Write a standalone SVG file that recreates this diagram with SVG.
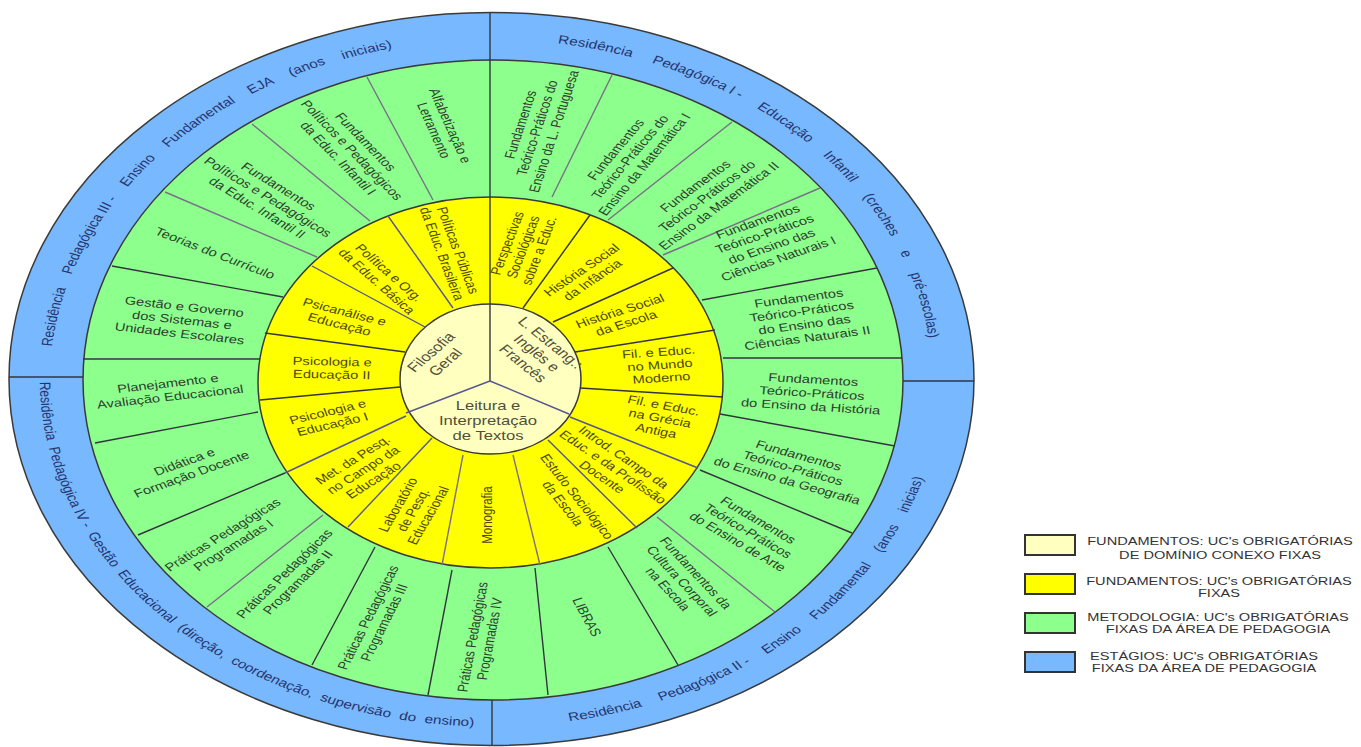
<svg xmlns="http://www.w3.org/2000/svg" width="1361" height="747" viewBox="0 0 1361 747">
<style>
text{font-family:"Liberation Sans",Arial,sans-serif;text-anchor:middle}
.g{font-size:11.5px;fill:#2f4030}
.y{font-size:11.5px;fill:#4d4810}
.c{font-size:13px;fill:#50503c}
.b{font-size:12px;fill:#25346b;text-anchor:start}
.l{font-size:11.5px;fill:#333}
.dk{stroke:#34343f;stroke-width:1.4;fill:none}
.gr{stroke:#7a6e8a;stroke-width:1.4;fill:none}
.pu{stroke:#555590;stroke-width:1.4;fill:none}
.ring{stroke:#3a3a3a;stroke-width:1.5}
.box{stroke:#333;stroke-width:2}
</style>
<defs>
<path id="pTL" d="M -342.9 -32.5 A 344.5 339.5 0 0 1 30 -338.2"/>
<path id="pTR" d="M 52.1 -335.6 A 344.5 339.5 0 0 1 344.3 -11.8"/>
<path id="pBL" d="M -352.5 3 A 352.5 347.5 0 0 0 12.3 347.3"/>
<path id="pBR" d="M 61.2 342.2 A 352.5 347.5 0 0 0 347.1 60.3"/>
</defs>
<g id="rings">
<ellipse class="ring" cx="491.5" cy="379" rx="482.5" ry="366.5" fill="#78b8ff"/>
<ellipse class="ring" cx="493" cy="380" rx="410" ry="320" fill="#8cff8c"/>
<ellipse class="ring" cx="490.5" cy="382.5" rx="232.5" ry="185.5" fill="#ffff00"/>
<ellipse class="ring" cx="490.5" cy="379" rx="90.5" ry="75" fill="#ffffc0"/>
</g>
<g id="connectors">
<line class="dk" x1="490" y1="13" x2="490" y2="381"/>
<line class="dk" x1="492" y1="700" x2="492" y2="745"/>
<line class="dk" x1="9" y1="377" x2="83" y2="377"/>
<line class="dk" x1="903" y1="381" x2="974" y2="381"/>
<line class="pu" x1="490" y1="381" x2="406" y2="413"/>
<line class="pu" x1="490" y1="381" x2="569" y2="414"/>
<line class="gr" x1="552" y1="197" x2="612" y2="75"/>
<line class="gr" x1="608" y1="220" x2="732" y2="122"/>
<line class="gr" x1="663" y1="255" x2="820" y2="188"/>
<line class="dk" x1="702" y1="300" x2="877" y2="268"/>
<line class="dk" x1="723" y1="358" x2="902" y2="358"/>
<line class="dk" x1="720" y1="414" x2="895" y2="446"/>
<line class="dk" x1="700" y1="470" x2="852" y2="533"/>
<line class="gr" x1="657" y1="517" x2="775" y2="612"/>
<line class="dk" x1="608" y1="547" x2="678" y2="665"/>
<line class="dk" x1="535" y1="568" x2="548" y2="695"/>
<line class="dk" x1="452" y1="570" x2="428" y2="695"/>
<line class="dk" x1="375" y1="547" x2="312" y2="665"/>
<line class="gr" x1="323" y1="515" x2="207" y2="607"/>
<line class="dk" x1="285" y1="473" x2="138" y2="535"/>
<line class="dk" x1="258" y1="412" x2="95" y2="443"/>
<line class="dk" x1="260" y1="359" x2="83" y2="359"/>
<line class="dk" x1="283" y1="297" x2="112" y2="266"/>
<line class="gr" x1="317" y1="257" x2="165" y2="192"/>
<line class="gr" x1="370" y1="221" x2="252" y2="124"/>
<line class="gr" x1="433" y1="200" x2="367" y2="77"/>
<line class="dk" x1="523" y1="308" x2="590" y2="215"/>
<line class="dk" x1="553" y1="322" x2="673" y2="268"/>
<line class="dk" x1="575" y1="352" x2="715" y2="330"/>
<line class="dk" x1="580" y1="388" x2="723" y2="397"/>
<line class="pu" x1="570" y1="417" x2="698" y2="468"/>
<line class="pu" x1="548" y1="440" x2="637" y2="528"/>
<line class="gr" x1="513" y1="455" x2="540" y2="565"/>
<line class="gr" x1="463" y1="455" x2="442" y2="565"/>
<line class="pu" x1="432" y1="438" x2="348" y2="527"/>
<line class="pu" x1="406" y1="416" x2="285" y2="473"/>
<line class="dk" x1="400" y1="387" x2="260" y2="400"/>
<line class="dk" x1="405" y1="352" x2="265" y2="333"/>
<line class="pu" x1="425" y1="327" x2="312" y2="266"/>
<line class="pu" x1="453" y1="308" x2="388" y2="216"/>
</g>
<g id="stages" transform="translate(491 379) scale(1.28 1)">
<g id="s3"><text class="b"><textPath href="#pTL">Residência<tspan dx="10.8"> Pedagógica III -</tspan><tspan dx="10.8"> Ensino</tspan><tspan dx="10.8"> Fundamental</tspan><tspan dx="10.8"> EJA</tspan><tspan dx="10.8"> (anos</tspan><tspan dx="10.8"> iniciais)</tspan></textPath></text></g>
<g id="s1"><text class="b"><textPath href="#pTR">Residência<tspan dx="13.3"> Pedagógica I -</tspan><tspan dx="13.3"> Educação</tspan><tspan dx="13.3"> Infantil</tspan><tspan dx="13.3"> (creches</tspan><tspan dx="13.3"> e</tspan><tspan dx="13.3"> pré-escolas)</tspan></textPath></text></g>
<g id="s4"><text class="b"><textPath href="#pBL">Residência<tspan dx="3.5"> Pedagógica IV -</tspan><tspan dx="3.5"> Gestão</tspan><tspan dx="3.5"> Educacional</tspan><tspan dx="3.5"> (direção,</tspan><tspan dx="3.5"> coordenação,</tspan><tspan dx="3.5"> supervisão</tspan><tspan dx="3.5"> do</tspan><tspan dx="3.5"> ensino)</tspan></textPath></text></g>
<g id="s2"><text class="b"><textPath href="#pBR">Residência<tspan dx="11.4"> Pedagógica II -</tspan><tspan dx="11.4"> Ensino</tspan><tspan dx="11.4"> Fundamental</tspan><tspan dx="11.4"> (anos</tspan><tspan dx="11.4"> inicias)</tspan></textPath></text></g>
</g>
<g id="methodology">
<g id="m1"><text class="g" transform="translate(537 128) scale(1.28 1) rotate(-75.4)"><tspan x="0" y="-9.5">Fundamentos</tspan><tspan x="0" dy="13.5">Teórico-Práticos do</tspan><tspan x="0" dy="13.5">Ensino da L. Portuguesa</tspan></text></g>
<g id="m2"><text class="g" transform="translate(630 157) scale(1.28 1) rotate(-56.2)"><tspan x="0" y="-9.5">Fundamentos</tspan><tspan x="0" dy="13.5">Teórico-Práticos do</tspan><tspan x="0" dy="13.5">Ensino da Matemática I</tspan></text></g>
<g id="m3"><text class="g" transform="translate(707 196) scale(1.28 1) rotate(-42.9)"><tspan x="0" y="-9.5">Fundamentos</tspan><tspan x="0" dy="13.5">Teórico-Práticos do</tspan><tspan x="0" dy="13.5">Ensino da Matemática II</tspan></text></g>
<g id="m4"><text class="g" transform="translate(768 240) scale(1.28 1) rotate(-23.4)"><tspan x="0" y="-16.25">Fundamentos</tspan><tspan x="0" dy="13.5">Teórico-Práticos</tspan><tspan x="0" dy="13.5">do Ensino das</tspan><tspan x="0" dy="13.5">Ciências Naturais I</tspan></text></g>
<g id="m5"><text class="g" transform="translate(803 318) scale(1.28 1) rotate(-9.5)"><tspan x="0" y="-16.25">Fundamentos</tspan><tspan x="0" dy="13.5">Teórico-Práticos</tspan><tspan x="0" dy="13.5">do Ensino das</tspan><tspan x="0" dy="13.5">Ciências Naturais II</tspan></text></g>
<g id="m6"><text class="g" transform="translate(812 393) scale(1.28 1) rotate(4.3)"><tspan x="0" y="-9.5">Fundamentos</tspan><tspan x="0" dy="13.5">Teórico-Práticos</tspan><tspan x="0" dy="13.5">do Ensino da História</tspan></text></g>
<g id="m7"><text class="g" transform="translate(793 468) scale(1.28 1) rotate(19.6)"><tspan x="0" y="-9.5">Fundamentos</tspan><tspan x="0" dy="13.5">Teórico-Práticos</tspan><tspan x="0" dy="13.5">do Ensino da Geografia</tspan></text></g>
<g id="m8"><text class="g" transform="translate(748 531) scale(1.28 1) rotate(36.9)"><tspan x="0" y="-9.5">Fundamentos</tspan><tspan x="0" dy="13.5">Teórico-Práticos</tspan><tspan x="0" dy="13.5">do Ensino de Arte</tspan></text></g>
<g id="m9"><text class="g" transform="translate(682 581) scale(1.28 1) rotate(53.5)"><tspan x="0" y="-9.5">Fundamentos da</tspan><tspan x="0" dy="13.5">Cultura Corporal</tspan><tspan x="0" dy="13.5">na Escola</tspan></text></g>
<g id="m10"><text class="g" transform="translate(587 617) scale(1.28 1) rotate(67)"><tspan x="0" y="4">LIBRAS</tspan></text></g>
<g id="m11"><text class="g" transform="translate(481 638) scale(1.28 1) rotate(-81.6)"><tspan x="0" y="-2.75">Práticas Pedagógicas</tspan><tspan x="0" dy="13.5">Programadas IV</tspan></text></g>
<g id="m12"><text class="g" transform="translate(376 620) scale(1.28 1) rotate(-68.4)"><tspan x="0" y="-2.75">Práticas Pedagógicas</tspan><tspan x="0" dy="13.5">Programadas III</tspan></text></g>
<g id="m13"><text class="g" transform="translate(291 578) scale(1.28 1) rotate(-50.6)"><tspan x="0" y="-2.75">Práticas Pedagógicas</tspan><tspan x="0" dy="13.5">Programadas II</tspan></text></g>
<g id="m14"><text class="g" transform="translate(228 540) scale(1.28 1) rotate(-37.9)"><tspan x="0" y="-2.75">Práticas Pedagógicas</tspan><tspan x="0" dy="13.5">Programadas I</tspan></text></g>
<g id="m15"><text class="g" transform="translate(188 468) scale(1.28 1) rotate(-24.5)"><tspan x="0" y="-2.75">Didática e</tspan><tspan x="0" dy="13.5">Formação Docente</tspan></text></g>
<g id="m16"><text class="g" transform="translate(169 390) scale(1.28 1) rotate(-8.1)"><tspan x="0" y="-2.75">Planejamento e</tspan><tspan x="0" dy="13.5">Avaliação Educacional</tspan></text></g>
<g id="m17"><text class="g" transform="translate(182 320) scale(1.28 1) rotate(8)"><tspan x="0" y="-9.5">Gestão e Governo</tspan><tspan x="0" dy="13.5">dos Sistemas e</tspan><tspan x="0" dy="13.5">Unidades Escolares</tspan></text></g>
<g id="m18"><text class="g" transform="translate(215 253) scale(1.28 1) rotate(26.2)"><tspan x="0" y="4">Teorias do Currículo</tspan></text></g>
<g id="m19"><text class="g" transform="translate(268 197) scale(1.28 1) rotate(38)"><tspan x="0" y="-9.5">Fundamentos</tspan><tspan x="0" dy="13.5">Políticos e Pedagógicos</tspan><tspan x="0" dy="13.5">da Educ. Infantil II</tspan></text></g>
<g id="m20"><text class="g" transform="translate(352 150) scale(1.28 1) rotate(52.4)"><tspan x="0" y="-9.5">Fundamentos</tspan><tspan x="0" dy="13.5">Políticos e Pedagógicos</tspan><tspan x="0" dy="13.5">da Educ. Infantil I</tspan></text></g>
<g id="m21"><text class="g" transform="translate(442 128) scale(1.28 1) rotate(70.6)"><tspan x="0" y="-2.75">Alfabetização e</tspan><tspan x="0" dy="13.5">Letramento</tspan></text></g>
</g>
<g id="fundamentals">
<g id="f1"><text class="y" transform="translate(523 247) scale(1.28 1) rotate(-73.2)"><tspan x="0" y="-9">Perspectivas</tspan><tspan x="0" dy="13">Sociológicas</tspan><tspan x="0" dy="13">sobre a Educ.</tspan></text></g>
<g id="f2"><text class="y" transform="translate(587 275) scale(1.28 1) rotate(-40.8)"><tspan x="0" y="-2.5">História Social</tspan><tspan x="0" dy="13">da Infância</tspan></text></g>
<g id="f3"><text class="y" transform="translate(623 317) scale(1.28 1) rotate(-22)"><tspan x="0" y="-2.5">História Social</tspan><tspan x="0" dy="13">da Escola</tspan></text></g>
<g id="f4"><text class="y" transform="translate(660 365) scale(1.28 1) rotate(-4.9)"><tspan x="0" y="-9">Fil. e Educ.</tspan><tspan x="0" dy="13">no Mundo</tspan><tspan x="0" dy="13">Moderno</tspan></text></g>
<g id="f5"><text class="y" transform="translate(660 418) scale(1.28 1) rotate(13.3)"><tspan x="0" y="-9">Fil. e Educ.</tspan><tspan x="0" dy="13">na Grécia</tspan><tspan x="0" dy="13">Antiga</tspan></text></g>
<g id="f6"><text class="y" transform="translate(613 467) scale(1.28 1) rotate(40.8)"><tspan x="0" y="-9">Introd. Campo da</tspan><tspan x="0" dy="13">Educ. e da Profissão</tspan><tspan x="0" dy="13">Docente</tspan></text></g>
<g id="f7"><text class="y" transform="translate(570 500) scale(1.28 1) rotate(57.9)"><tspan x="0" y="-2.5">Estudo Sociológico</tspan><tspan x="0" dy="13">da Escola</tspan></text></g>
<g id="f8"><text class="y" transform="translate(487 515) scale(1.28 1) rotate(-90)"><tspan x="0" y="4">Monografia</tspan></text></g>
<g id="f9"><text class="y" transform="translate(413 510) scale(1.28 1) rotate(-65.4)"><tspan x="0" y="-9">Laboratório</tspan><tspan x="0" dy="13">de Pesq.</tspan><tspan x="0" dy="13">Educacional</tspan></text></g>
<g id="f10"><text class="y" transform="translate(363 470) scale(1.28 1) rotate(-38.6)"><tspan x="0" y="-9">Met. da Pesq.</tspan><tspan x="0" dy="13">no Campo da</tspan><tspan x="0" dy="13">Educação</tspan></text></g>
<g id="f11"><text class="y" transform="translate(330 418) scale(1.28 1) rotate(-16.7)"><tspan x="0" y="-2.5">Psicologia e</tspan><tspan x="0" dy="13">Educação I</tspan></text></g>
<g id="f12"><text class="y" transform="translate(332 368) scale(1.28 1) rotate(1.5)"><tspan x="0" y="-2.5">Psicologia e</tspan><tspan x="0" dy="13">Educação II</tspan></text></g>
<g id="f13"><text class="y" transform="translate(342 318) scale(1.28 1) rotate(18)"><tspan x="0" y="-2.5">Psicanálise e</tspan><tspan x="0" dy="13">Educação</tspan></text></g>
<g id="f14"><text class="y" transform="translate(383 277) scale(1.28 1) rotate(48.1)"><tspan x="0" y="-2.5">Política e Org.</tspan><tspan x="0" dy="13">da Educ. Básica</tspan></text></g>
<g id="f15"><text class="y" transform="translate(450 252) scale(1.28 1) rotate(73.4)"><tspan x="0" y="-2.5">Políticas Públicas</tspan><tspan x="0" dy="13">da Educ. Brasileira</tspan></text></g>
</g>
<g id="core">
<g id="c1"><text class="c" transform="translate(438 357) scale(1.28 1) rotate(-48)"><tspan x="0" y="-2.9">Filosofia</tspan><tspan x="0" dy="15">Geral</tspan></text></g>
<g id="c2"><text class="c" transform="translate(537 353) scale(1.28 1) rotate(46)"><tspan x="0" y="-10.4">L. Estrang.:</tspan><tspan x="0" dy="15">Inglês e</tspan><tspan x="0" dy="15">Francês</tspan></text></g>
<g id="c3"><text class="c" transform="translate(488 420) scale(1.28 1)"><tspan x="0" y="-10.4">Leitura e</tspan><tspan x="0" dy="15">Interpretação</tspan><tspan x="0" dy="15">de Textos</tspan></text></g>
</g>
<g id="legend">
<g id="k1"><rect class="box" x="1025" y="535" width="50" height="20" fill="#ffffc0"/><text class="l" transform="translate(1220 0) scale(1.27 1)"><tspan x="0" y="545.5">FUNDAMENTOS: UC's OBRIGATÓRIAS</tspan><tspan x="0" y="559">DE DOMÍNIO CONEXO FIXAS</tspan></text></g>
<g id="k2"><rect class="box" x="1025" y="574" width="50" height="20" fill="#ffff00"/><text class="l" transform="translate(1219 0) scale(1.27 1)"><tspan x="0" y="585">FUNDAMENTOS: UC's OBRIGATÓRIAS</tspan><tspan x="0" y="597.5">FIXAS</tspan></text></g>
<g id="k3"><rect class="box" x="1025" y="613" width="50" height="20" fill="#8cff8c"/><text class="l" transform="translate(1218 0) scale(1.27 1)"><tspan x="0" y="621">METODOLOGIA: UC's OBRIGATÓRIAS</tspan><tspan x="0" y="633.5">FIXAS DA ÁREA DE PEDAGOGIA</tspan></text></g>
<g id="k4"><rect class="box" x="1025" y="652" width="50" height="20" fill="#78b8ff"/><text class="l" transform="translate(1204 0) scale(1.27 1)"><tspan x="0" y="660">ESTÁGIOS: UC's OBRIGATÓRIAS</tspan><tspan x="0" y="672">FIXAS DA ÁREA DE PEDAGOGIA</tspan></text></g>
</g>
</svg>
